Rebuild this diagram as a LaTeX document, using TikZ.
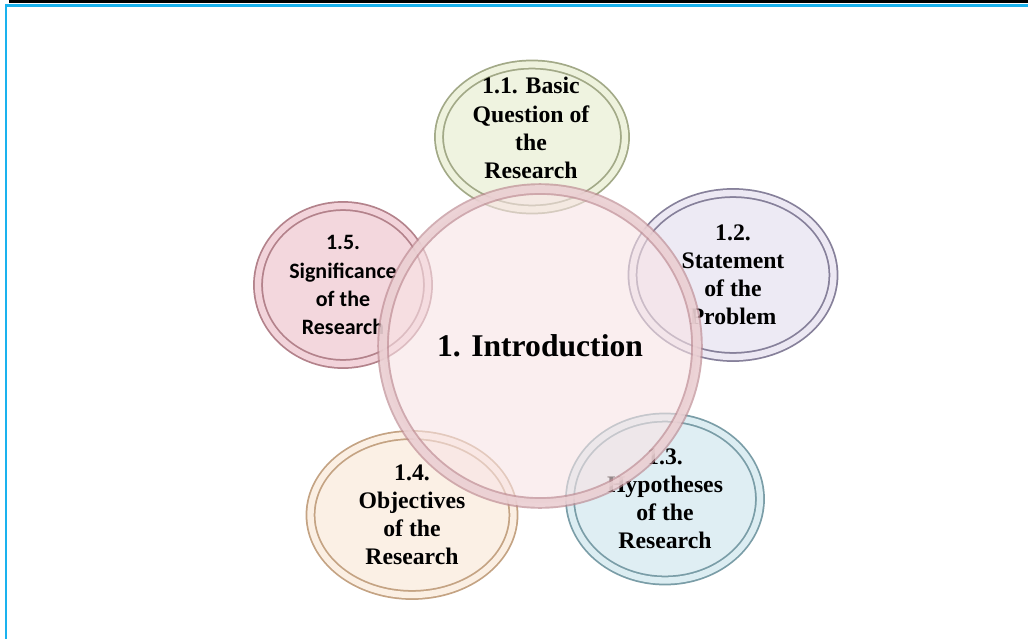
\documentclass[tikz,border=0pt]{standalone}
\usepackage{fontspec}
\setmainfont{Liberation Serif}
\newfontfamily\calfont{Carlito}
\usetikzlibrary{shapes.geometric}

\definecolor{frameblue}{HTML}{1AB2EE}
\definecolor{ringgreen}{HTML}{A2A987}
\definecolor{fillgreen}{HTML}{EEF2DD}
\definecolor{ringpurple}{HTML}{86809A}
\definecolor{fillpurple}{HTML}{ECE8F3}
\definecolor{ringblue}{HTML}{7A9DA7}
\definecolor{fillblue}{HTML}{DCEDF2}
\definecolor{ringpeach}{HTML}{C4A383}
\definecolor{fillpeach}{HTML}{FBEFE3}
\definecolor{ringpink}{HTML}{B3828B}
\definecolor{fillpink}{HTML}{F2D3DA}
\definecolor{ringrose}{HTML}{BE8C94}
\definecolor{fillrose}{HTML}{F8E3E5}

\tikzset{
  bubble/.style={ellipse, align=center, inner sep=0pt, line width=1pt,
    double distance=3.6pt, fill opacity=0.9, text opacity=1,
    font=\bfseries\fontsize{13.5}{16}\selectfont},
  bubbletext/.style={align=center, inner sep=0pt,
    font=\bfseries\fontsize{13.5}{16}\selectfont},
  hub/.style={circle, inner sep=0pt, line width=1.1pt, double distance=4.4pt,
    draw=ringrose, double=fillrose, fill=fillrose, fill opacity=0.6,
    draw opacity=0.7, text opacity=1, minimum size=6.28cm,
    font=\bfseries\fontsize{18}{21}\selectfont}
}

\begin{document}
\begin{tikzpicture}[x=0.02cm, y=-0.02cm]
			%%%%% START %%%%%
			
			\useasboundingbox (0, 0) rectangle (1028, 639);
			\fill[white] (0, 0) rectangle (1028, 639);
			
			\draw[line width=1.7pt, color=black] (9, 1.5) -- (1028, 1.5);
			\draw[line width=1.2pt, color=frameblue] (6, 639) -- (6, 5.5) -- (1028, 5.5);
			
			\node[bubble, draw=ringgreen, double=fillgreen, fill=fillgreen, minimum width=3.72cm, minimum height=2.9cm] (question) at (532, 137) {};
			\node[bubbletext] (questiontext) at (531, 128) {1.1. Basic\\Question of\\the\\Research};
			\node[bubble, draw=ringpurple, double=fillpurple, fill=fillpurple, minimum width=4.02cm, minimum height=3.28cm] (statement) at (733, 275) {1.2.\\Statement\\of the\\Problem};
			\node[bubble, draw=ringblue, double=fillblue, fill=fillblue, minimum width=3.8cm, minimum height=3.26cm] (hypotheses) at (665, 499) {1.3.\\Hypotheses\\of the\\Research};
			\node[bubble, draw=ringpeach, double=fillpeach, fill=fillpeach, minimum width=4.06cm, minimum height=3.2cm] (objectives) at (412, 515) {1.4.\\Objectives\\of the\\Research};
			\node[bubble, draw=ringpink, double=fillpink, fill=fillpink, minimum width=3.4cm, minimum height=3.16cm, font=\calfont\bfseries\fontsize{12.5}{16}\selectfont] (significance) at (343, 285) {1.5.\\Significance\\of the\\Research};
			
			\node[hub] (intro) at (540, 346) {1. Introduction};
			
			%%%%% END %%%%%
\end{tikzpicture}
\end{document}
